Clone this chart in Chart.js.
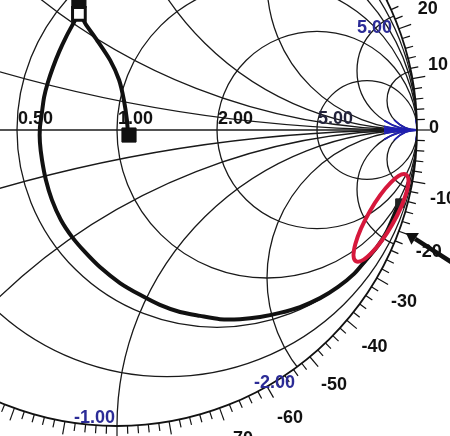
<!DOCTYPE html>
<html><head><meta charset="utf-8">
<script src="https://cdn.jsdelivr.net/npm/chart.js@4/dist/chart.umd.min.js"></script>
<style>html,body{margin:0;padding:0;background:#fff;overflow:hidden}canvas{display:block}</style>
</head><body>
<canvas id="c" width="450" height="436"></canvas>
<script>
// ---- data (reflection-coefficient plane) ----
const traceU = [0.037,0.033,0.023,0.007,-0.023,-0.067,-0.103,-0.127,-0.143,-0.170,-0.193,-0.213,-0.230,-0.243,-0.250,-0.257,-0.257,-0.250,-0.237,-0.217,-0.187,-0.150,-0.107,-0.057,0.010,0.077,0.143,0.210,0.277,0.343,0.410,0.477,0.543,0.610,0.677,0.737,0.790,0.830,0.867,0.897,0.920,0.940];
const traceV = [-0.017,0.034,0.101,0.169,0.236,0.304,0.355,0.395,0.365,0.314,0.264,0.213,0.162,0.111,0.061,0.007,-0.041,-0.101,-0.169,-0.236,-0.304,-0.361,-0.412,-0.463,-0.517,-0.557,-0.591,-0.615,-0.628,-0.639,-0.639,-0.632,-0.618,-0.598,-0.568,-0.530,-0.486,-0.439,-0.395,-0.348,-0.297,-0.247];
const startMarker = [{x:0.040, y:-0.017}];
const topMarker = [{x:-0.127, y:0.392}];
const topMarkerClipped = [{x:-0.127, y:0.436}];
const endMarker = [{x:0.943, y:-0.247}];
const resistanceCircles = [0.2, 0.5, 1, 2, 5];
const reactanceArcs = [0.2, 0.5, 1, 2, 5, 10, -0.2, -0.5, -1, -2, -5, -10];
const resistanceLabelValues = [0.5, 1, 2, 5];
const resistanceLabels = ['0.50', '1.00', '2.00', '5.00'];
const reactanceLabelValues = [5, -2, -1];
const reactanceLabels = ['5.00', '-2.00', '-1.00'];
const angleTickValues = [20, 10, 0, -10, -20, -30, -40, -50, -60, -70];
const angleTickLabels = ['20', '10', '0', '-10', '-20', '-30', '-40', '-50', '-60', '-70'];
const highlightCenter = {x:0.880, y:-0.297};
const arrowFrom = {x:1.12, y:-0.45};
const arrowTo = {x:0.963, y:-0.348};

const tracePoints = traceU.map((u, i) => ({x:u, y:traceV[i]}));

const FONT = 'bold 18px "Liberation Sans", Arial, sans-serif';
const NAVY = '#2b2b96';

function helpers(chart){
  const xs = chart.scales.x, ys = chart.scales.y;
  const X = u => xs.getPixelForValue(u), Y = v => ys.getPixelForValue(v);
  const kx = X(1) - X(0), ky = Y(0) - Y(1);
  return {X, Y, kx, ky};
}

const smithGrid = {
  id: 'smithGrid',
  beforeDatasetsDraw(chart){
    const ctx = chart.ctx;
    const {X, Y, kx, ky} = helpers(chart);
    const drawLines = (color, width) => {
      ctx.strokeStyle = color; ctx.lineWidth = width;
      ctx.save();
      ctx.beginPath(); ctx.ellipse(X(0), Y(0), kx, ky, 0, 0, Math.PI*2); ctx.clip();
      ctx.beginPath(); ctx.moveTo(X(-1), Y(0)); ctx.lineTo(X(1), Y(0)); ctx.stroke();
      resistanceCircles.forEach(r => {
        const c = r/(r+1), rad = 1/(r+1);
        ctx.beginPath(); ctx.ellipse(X(c), Y(0), rad*kx, rad*ky, 0, 0, Math.PI*2); ctx.stroke();
      });
      reactanceArcs.forEach(x => {
        const rad = 1/Math.abs(x);
        ctx.beginPath(); ctx.ellipse(X(1), Y(1/x), rad*kx, rad*ky, 0, 0, Math.PI*2); ctx.stroke();
      });
      ctx.restore();
    };
    ctx.save();
    drawLines('#1a1a1a', 1.3);
    // blue convergence near the open-circuit point
    ctx.save();
    ctx.beginPath(); ctx.rect(X(0.89), Y(0.035), X(1.0)-X(0.89), Y(-0.035)-Y(0.035)); ctx.clip();
    drawLines('#1f1fb0', 1.8);
    ctx.restore();
    // rim
    ctx.strokeStyle = '#111'; ctx.lineWidth = 1.8;
    ctx.beginPath(); ctx.ellipse(X(0), Y(0), kx, ky, 0, 0, Math.PI*2); ctx.stroke();
    // rim ticks
    ctx.lineWidth = 1.2;
    for (let a = -180; a < 180; a += 2) {
      const t = a*Math.PI/180;
      const px = X(Math.cos(t)), py = Y(Math.sin(t));
      const dx = Math.cos(t), dy = -Math.sin(t);
      const L = (a % 10 === 0) ? 13 : 8;
      ctx.beginPath(); ctx.moveTo(px, py); ctx.lineTo(px + dx*L, py + dy*L); ctx.stroke();
    }
    // resistance labels on real axis
    ctx.font = FONT; ctx.textAlign = 'left'; ctx.textBaseline = 'alphabetic';
    resistanceLabelValues.forEach((r, i) => {
      const u = (r-1)/(r+1);
      ctx.fillStyle = r === 5 ? '#22223a' : '#111';
      ctx.fillText(resistanceLabels[i], X(u) + 1, Y(0) - 6);
    });
    // reactance labels (blue) near the rim
    const reactNudge = [[-2, 17], [-2, 21], [-2, -3]];
    ctx.textAlign = 'right'; ctx.fillStyle = NAVY;
    reactanceLabelValues.forEach((x, i) => {
      const gu = (x*x-1)/(x*x+1), gv = 2*x/(x*x+1);
      ctx.fillText(reactanceLabels[i], X(gu) + reactNudge[i][0], Y(gv) + reactNudge[i][1]);
    });
    // angle labels outside rim
    const angNudge = [[-5,-8],[-10,-7],[-19,-2],[-5,11],[-4,9],[-4,6],[0,4],[1,1],[5,1],[8,-2]];
    ctx.textAlign = 'center'; ctx.textBaseline = 'middle'; ctx.fillStyle = '#111';
    angleTickValues.forEach((a, i) => {
      const t = a*Math.PI/180, rho = 1.12;
      const px = X(rho*Math.cos(t)), py = Y(rho*Math.sin(t));
      ctx.fillText(angleTickLabels[i], px + angNudge[i][0], py + angNudge[i][1]);
    });
    ctx.restore();
  },
  afterDatasetsDraw(chart){
    const ctx = chart.ctx;
    const {X, Y} = helpers(chart);
    ctx.save();
    // red highlight ellipse
    ctx.strokeStyle = '#d6183c'; ctx.lineWidth = 4;
    ctx.beginPath();
    ctx.ellipse(X(highlightCenter.x), Y(highlightCenter.y), 50, 13, -60*Math.PI/180, 0, Math.PI*2);
    ctx.stroke();
    // arrow
    const x0 = X(arrowFrom.x), y0 = Y(arrowFrom.y), x1 = X(arrowTo.x), y1 = Y(arrowTo.y);
    const ang = Math.atan2(y1-y0, x1-x0);
    ctx.strokeStyle = '#111'; ctx.fillStyle = '#111'; ctx.lineWidth = 4.5;
    const hx = x1 - 11*Math.cos(ang), hy = y1 - 11*Math.sin(ang);
    ctx.beginPath(); ctx.moveTo(x0, y0); ctx.lineTo(hx, hy); ctx.stroke();
    ctx.beginPath();
    ctx.moveTo(x1, y1);
    ctx.lineTo(hx + 7*Math.sin(ang), hy - 7*Math.cos(ang));
    ctx.lineTo(hx - 7*Math.sin(ang), hy + 7*Math.cos(ang));
    ctx.closePath(); ctx.fill();
    ctx.restore();
  }
};

new Chart(document.getElementById('c'), {
  type: 'scatter',
  data: {
    datasets: [
      {label:'start', data:startMarker, pointStyle:'rect', pointRadius:10, backgroundColor:'#111', borderColor:'#111', borderWidth:1, order:1},
      {label:'top', data:topMarker, pointStyle:'rect', pointRadius:9, backgroundColor:'#fff', borderColor:'#111', borderWidth:3, order:1},
      {label:'top2', data:topMarkerClipped, pointStyle:'rect', pointRadius:10, backgroundColor:'#111', borderColor:'#111', borderWidth:1, order:2},
      {label:'end', data:endMarker, pointStyle:'rect', pointRadius:6, backgroundColor:'#222', borderColor:'#222', borderWidth:1, order:1},
      {label:'trace', data:tracePoints, showLine:true, borderColor:'#111', borderWidth:4, pointRadius:0, tension:0.25, fill:false, order:3}
    ]
  },
  options: {
    responsive:false, animation:false, devicePixelRatio:1,
    layout:{padding:0, autoPadding:false},
    plugins:{legend:{display:false}, tooltip:{enabled:false}},
    scales:{
      x:{type:'linear', min:-0.39, max:1.11, display:false},
      y:{type:'linear', min:-1.0338, max:0.4392, display:false}
    }
  },
  plugins:[smithGrid]
});
</script>
</body></html>
